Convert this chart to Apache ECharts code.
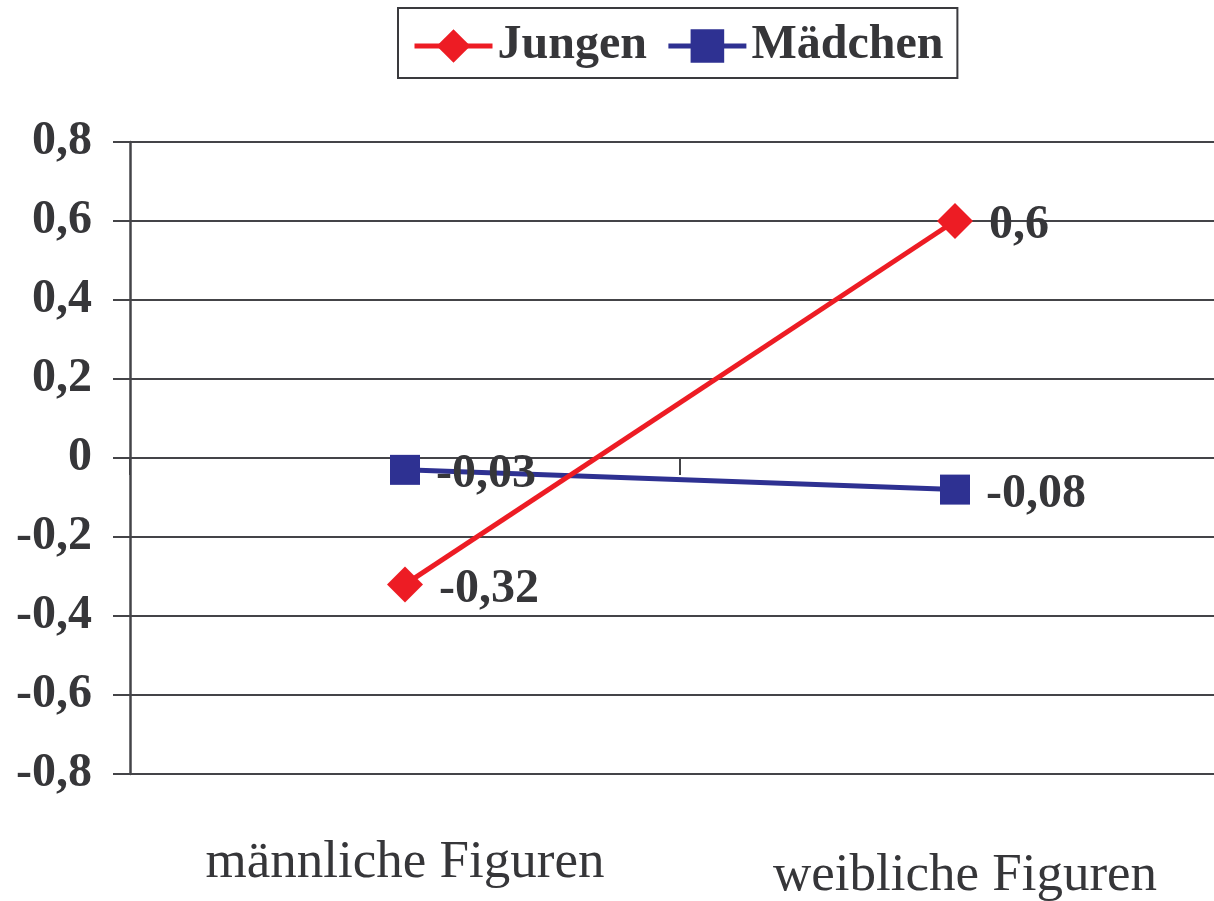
<!DOCTYPE html>
<html>
<head>
<meta charset="utf-8">
<script src="https://cdn.jsdelivr.net/npm/echarts@6/dist/echarts.min.js"></script>
<style>
html,body{margin:0;padding:0;background:#fff;}
#main{width:1214px;height:901px;}
</style>
</head>
<body>
<div id="main"></div>
<script>
var categories = ['männliche Figuren', 'weibliche Figuren'];
var jungen = [-0.32, 0.6];
var maedchen = [-0.03, -0.08];
var seriesNames = ['Jungen', 'Mädchen'];

var textColor = '#363639';
var lineColor = '#444448';

function komma(v) {
    if (v === 0) return '0';
    return String(v).replace('.', ',');
}

var labelStyle = {
    show: true,
    position: 'right',
    distance: 16,
    offset: [0, 5],
    fontFamily: 'Liberation Serif',
    fontWeight: 'bold',
    fontSize: 48,
    color: textColor,
    formatter: function (p) { return komma(p.value); }
};

var option = {
    backgroundColor: '#fff',
    animation: false,
    legend: {
        left: 398,
        top: 8,
        padding: [14, 14, 8, 14],
        borderColor: '#3a3a3e',
        borderWidth: 2,
        itemWidth: 78,
        itemHeight: 42,
        itemGap: 19,
        lineStyle: { width: 5 },
        textStyle: {
            fontFamily: 'Liberation Serif',
            fontWeight: 'bold',
            fontSize: 48,
            color: textColor
        },
        data: seriesNames
    },
    grid: {
        left: 130,
        top: 142,
        bottom: 127,
        right: -16,
        outerBoundsMode: 'none'
    },
    xAxis: [
        {
            type: 'category',
            data: categories,
            axisLine: { onZero: true, lineStyle: { color: lineColor, width: 2 } },
            axisTick: { show: true, length: 17, lineStyle: { color: lineColor, width: 2 } },
            axisLabel: { show: false }
        },
        {
            type: 'category',
            data: categories,
            position: 'bottom',
            axisLine: { show: false, onZero: false },
            axisTick: { show: false },
            axisLabel: {
                interval: 0,
                hideOverlap: false,
                margin: 63,
                color: textColor,
                fontFamily: 'Liberation Serif',
                fontSize: 53,
                formatter: function (v, i) {
                    return i === 1 ? '{b|' + v + '}' : '{a|' + v + '}';
                },
                rich: {
                    a: { fontFamily: 'Liberation Serif', fontSize: 53, color: textColor, lineHeight: 53 },
                    b: { fontFamily: 'Liberation Serif', fontSize: 53, color: textColor, lineHeight: 79, padding: [0, 0, 0, 20] }
                }
            }
        }
    ],
    yAxis: {
        type: 'value',
        min: -0.8,
        max: 0.8,
        interval: 0.2,
        axisLine: { show: true, lineStyle: { color: lineColor, width: 2.5 } },
        axisTick: { show: true, length: 17, lineStyle: { color: lineColor, width: 2 } },
        splitLine: { lineStyle: { color: lineColor, width: 2 } },
        axisLabel: {
            margin: 38,
            color: textColor,
            fontFamily: 'Liberation Serif',
            fontWeight: 'bold',
            fontSize: 48,
            formatter: function (v) { return komma(Math.round(v * 10) / 10); }
        }
    },
    series: [
        {
            name: 'Jungen',
            type: 'line',
            data: jungen,
            symbol: 'diamond',
            symbolSize: 36,
            lineStyle: { color: '#ed1c24', width: 5 },
            itemStyle: { color: '#ed1c24' },
            label: labelStyle,
            z: 3
        },
        {
            name: 'Mädchen',
            type: 'line',
            data: maedchen,
            symbol: 'rect',
            symbolSize: 30,
            lineStyle: { color: '#2e3192', width: 5 },
            itemStyle: { color: '#2e3192' },
            label: labelStyle,
            z: 2
        }
    ]
};

var chart = echarts.init(document.getElementById('main'));
chart.setOption(option);
</script>
</body>
</html>
